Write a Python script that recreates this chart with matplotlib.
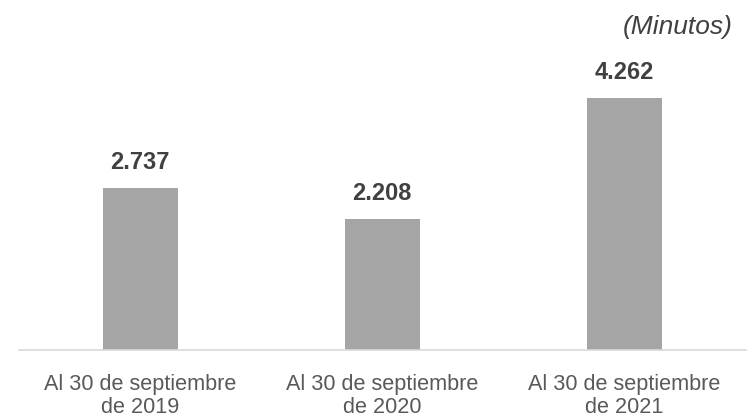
import numpy as np
import matplotlib.pyplot as plt

plt.rcParams['font.family'] = ['Liberation Sans', 'DejaVu Sans']

# Datos
categorias = ['Al 30 de septiembre\nde 2019', 'Al 30 de septiembre\nde 2020', 'Al 30 de septiembre\nde 2021']
minutos = [2737, 2208, 4262]
etiquetas = ['2.737', '2.208', '4.262']

fig = plt.figure(figsize=(7.52, 4.17), dpi=100)
ax = fig.add_axes([19 / 752, 67 / 417, 726.5 / 752, 295.6 / 417])

x = np.arange(len(categorias))
ax.bar(x, minutos, width=0.31, color='#A5A5A5')
ax.set_xlim(-0.5, len(categorias) - 0.5)
ax.set_ylim(0, 5000)

for xi, v, et in zip(x, minutos, etiquetas):
    ax.annotate(et, (xi, v), xytext=(0, 14), textcoords='offset pixels',
                ha='center', va='bottom', fontsize=17, fontweight='bold', color='#404040')

ax.set_xticks(x)
ax.set_xticklabels(categorias, fontsize=15.6, color='#595959', linespacing=1.15)
ax.tick_params(axis='x', length=0, pad=17)
ax.set_yticks([])
for s in ['top', 'right', 'left']:
    ax.spines[s].set_visible(False)
ax.spines['bottom'].set_color('#D9D9D9')
ax.spines['bottom'].set_linewidth(1.2)

fig.text(733 / 752, 1 - 34 / 417, '(Minutos)', ha='right', va='baseline',
         fontsize=19, style='italic', color='#404040')

fig.savefig('out.png', dpi=100)
